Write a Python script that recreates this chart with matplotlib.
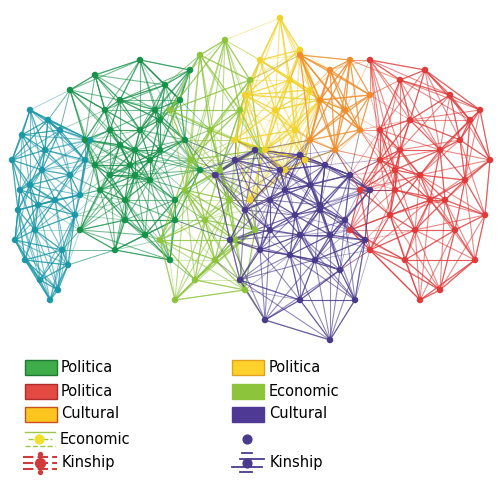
import numpy as np
import matplotlib.pyplot as plt
from matplotlib.patches import Rectangle

# node positions per community (pixel-like coords, y downward)
teal_x = [22,12,30,45,60,18,35,55,70,25,40,62,48,30,15,58,42,75,68,50,38,20,85,80,90]
teal_y = [135,160,185,150,130,210,230,200,175,260,280,250,120,110,240,290,170,215,265,300,205,190,160,195,140]
green_x = [70,95,120,140,165,190,85,110,135,160,185,100,125,150,175,200,80,115,145,170,130,105,155,180,95,120,140,160,110,135,150,125,175]
green_y = [90,75,100,60,85,70,140,130,150,120,140,190,200,180,200,170,230,250,235,260,165,110,110,100,165,145,130,150,175,175,160,220,220]
lime_x = [200,225,250,170,210,240,260,185,230,255,215,195,245,175,220,160,205,235,190]
lime_y = [55,40,80,110,130,110,150,190,200,230,260,280,290,300,170,240,220,240,160]
yellow_x = [280,260,300,310,245,275,295,320,265,285,305,250,235,290]
yellow_y = [18,60,50,90,95,110,130,100,150,170,160,200,140,80]
orange_x = [300,330,350,320,345,360,310,335,370]
orange_y = [55,70,60,100,110,130,140,150,95]
red_x = [370,400,425,450,470,490,380,410,440,465,485,360,395,430,455,475,370,405,440,420,390,460,480,350,400,420,380,445,415,395]
red_y = [60,80,70,95,120,160,130,120,150,180,215,190,170,200,230,260,250,260,290,300,215,140,110,230,150,175,160,200,230,190]
purple_x = [215,235,255,280,300,325,350,370,245,270,295,320,345,365,230,260,290,315,340,265,300,330,240,355,285,310,330,270,300,320]
purple_y = [175,160,150,170,155,165,175,190,210,200,215,205,220,240,240,250,255,260,270,320,300,340,280,300,190,185,235,230,235,210]

groups = [
    (teal_x, teal_y, '#1c98a8'),
    (green_x, green_y, '#17924a'),
    (lime_x, lime_y, '#8cc43c'),
    (yellow_x, yellow_y, '#f2d22a'),
    (orange_x, orange_y, '#f08c2a'),
    (red_x, red_y, '#e03a3a'),
    (purple_x, purple_y, '#4a3a8c'),
]

fig = plt.figure(figsize=(5, 5), dpi=100)
ax = fig.add_axes([0, 0, 1, 1])
ax.set_xlim(0, 500)
ax.set_ylim(500, 0)
ax.axis('off')

allpts = []
for xs, ys, c in groups:
    pts = np.column_stack([xs, ys]).astype(float)
    allpts.append((pts, c))
    d = np.linalg.norm(pts[:, None] - pts[None], axis=2)
    for i in range(len(pts)):
        for j in np.argsort(d[i])[1:10]:
            ax.plot([pts[i, 0], pts[j, 0]], [pts[i, 1], pts[j, 1]], color=c, lw=0.8, alpha=0.6, zorder=1)
for a in range(len(allpts)):
    for b in range(len(allpts)):
        if a == b:
            continue
        pa, ca = allpts[a]
        pb, _ = allpts[b]
        d = np.linalg.norm(pa[:, None] - pb[None], axis=2)
        for i in range(len(pa)):
            for j in np.argsort(d[i])[:2]:
                if d[i, j] < 60:
                    ax.plot([pa[i, 0], pb[j, 0]], [pa[i, 1], pb[j, 1]], color=ca, lw=0.6, alpha=0.45, zorder=1)
for pts, c in allpts:
    ax.scatter(pts[:, 0], pts[:, 1], s=22, color=c, zorder=3, edgecolors='none')

# legend
legend_left = [('Politica', '#3fae4a', '#1f7a33'), ('Politica', '#e34a44', '#b02a2a'), ('Cultural', '#fcc520', '#c8501e')]
legend_right = [('Politica', '#fcd22a', '#e0a020'), ('Economic', '#8cc43c', '#8cc43c'), ('Cultural', '#4e3a94', '#4e3a94')]
rows = [367, 391, 414]
for (lab, fc, ec), y in zip(legend_left, rows):
    ax.add_patch(Rectangle((25, y - 7), 32, 15, facecolor=fc, edgecolor=ec, lw=1))
    ax.text(61, y, lab, va='center', fontsize=10.5)
for (lab, fc, ec), y in zip(legend_right, rows):
    ax.add_patch(Rectangle((232, y - 7), 32, 15, facecolor=fc, edgecolor=ec, lw=1))
    ax.text(269, y, lab, va='center', fontsize=10.5)
ax.plot([25, 55], [432, 432], color='#9cc84a', lw=1)
ax.plot([25, 55], [446, 446], color='#9cc84a', lw=1, ls='--')
ax.plot([28, 52], [439, 439], color='#9cc84a', lw=1, ls='--')
ax.scatter([39], [439], s=40, color='#f2e02a', zorder=3)
ax.text(60, 439, 'Economic', va='center', fontsize=10.5)
for yy in [457, 463, 469]:
    ax.plot([23, 57], [yy, yy], color='#d03a3a', lw=1.5, ls=(0, (5, 2)))
ax.scatter([40], [463], s=50, color='#d03a3a', zorder=3)
ax.scatter([40, 40], [454, 472], s=8, color='#d03a3a', zorder=3)
ax.text(62, 463, 'Kinship', va='center', fontsize=10.5)
ax.scatter([247], [439], s=40, color='#4a3a8c')
for yy, x0, x1 in [(453, 242, 252), (459, 240, 264), (467, 232, 262), (472, 240, 252)]:
    ax.plot([x0, x1], [yy, yy], color='#4a3a8c', lw=1.3)
ax.scatter([247], [463], s=40, color='#4a3a8c', zorder=3)
ax.text(270, 463, 'Kinship', va='center', fontsize=10.5)

fig.savefig('out.png', dpi=100)
